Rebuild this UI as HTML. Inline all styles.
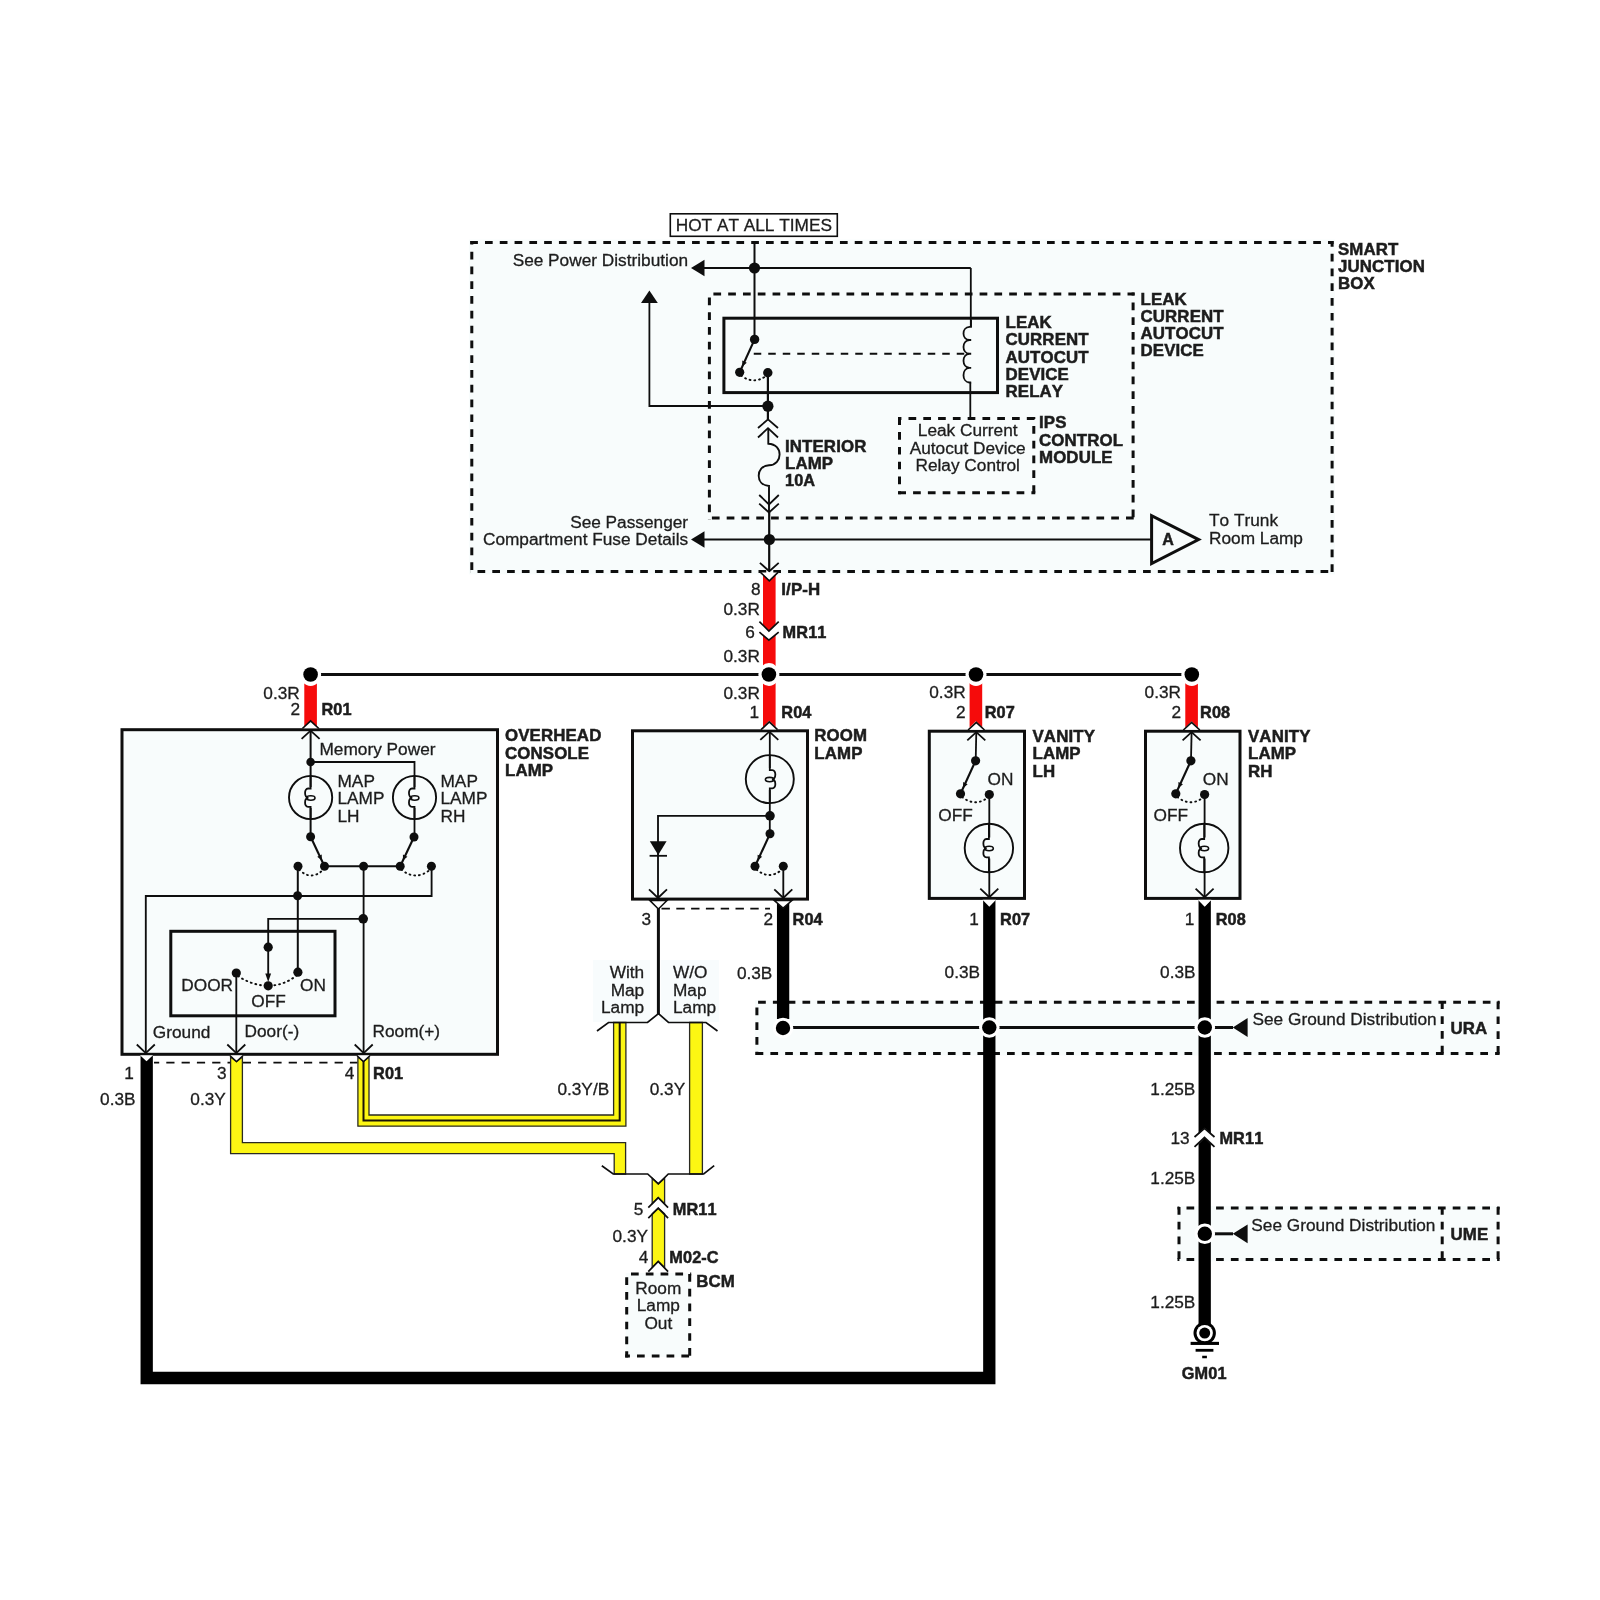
<!DOCTYPE html>
<html lang="en"><head><meta charset="utf-8"><title>Room Lamp Circuit</title>
<style>
html,body{margin:0;padding:0;background:#fff;}
body{width:1600px;height:1600px;overflow:hidden;}
text{stroke:#1c1c1c;stroke-width:.3px;paint-order:stroke fill;}text[font-weight]{stroke-width:.5px;letter-spacing:.12px;}svg{display:block;will-change:transform;font-kerning:none;font-family:"Liberation Sans",Arial,Helvetica,sans-serif;fill:#1c1c1c;}
</style></head><body>
<svg width="1600" height="1600" viewBox="0 0 1600 1600">
<!-- smart junction box -->
<rect x="468.8" y="239.6" width="866.3" height="334.8" fill="#f8fcfc"/>
<line x1="470.3" y1="242.6" x2="1333.6" y2="242.6" stroke="#0e0e0e" stroke-width="3" stroke-dasharray="7.7 7.09" stroke-dashoffset="0.1"/>
<line x1="1332.1" y1="241.1" x2="1332.1" y2="572.9" stroke="#0e0e0e" stroke-width="3" stroke-dasharray="7.7 7.09" stroke-dashoffset="2.14"/>
<line x1="470.3" y1="571.4" x2="1333.6" y2="571.4" stroke="#0e0e0e" stroke-width="3" stroke-dasharray="7.7 7.09" stroke-dashoffset="7.59"/>
<line x1="471.8" y1="241.1" x2="471.8" y2="572.9" stroke="#0e0e0e" stroke-width="3" stroke-dasharray="7.7 7.09" stroke-dashoffset="4.19"/>
<line x1="707.9" y1="294" x2="1134.6" y2="294" stroke="#0e0e0e" stroke-width="3" stroke-dasharray="7.7 7.09" stroke-dashoffset="9.29"/>
<line x1="1133.1" y1="292.5" x2="1133.1" y2="519.5" stroke="#0e0e0e" stroke-width="3" stroke-dasharray="7.7 7.09" stroke-dashoffset="4.79"/>
<line x1="707.9" y1="518" x2="1134.6" y2="518" stroke="#0e0e0e" stroke-width="3" stroke-dasharray="7.7 7.09" stroke-dashoffset="10.79"/>
<line x1="709.4" y1="292.5" x2="709.4" y2="519.5" stroke="#0e0e0e" stroke-width="3" stroke-dasharray="7.7 7.09" stroke-dashoffset="9.79"/>
<line x1="898" y1="418.6" x2="1035.3" y2="418.6" stroke="#0e0e0e" stroke-width="3" stroke-dasharray="7.7 7.09" stroke-dashoffset="4.29"/>
<line x1="1033.8" y1="417.1" x2="1033.8" y2="494.3" stroke="#0e0e0e" stroke-width="3" stroke-dasharray="7.7 7.09" stroke-dashoffset="5.89"/>
<line x1="898" y1="492.8" x2="1035.3" y2="492.8" stroke="#0e0e0e" stroke-width="3" stroke-dasharray="7.7 7.09" stroke-dashoffset="14.49"/>
<line x1="899.5" y1="417.1" x2="899.5" y2="494.3" stroke="#0e0e0e" stroke-width="3" stroke-dasharray="7.7 7.09" stroke-dashoffset="14.59"/>
<rect x="670.3" y="213.8" width="167" height="22.5" fill="#fff" stroke="#0e0e0e" stroke-width="1.6" />
<text x="753.8" y="231.2" text-anchor="middle" font-size="17.25" >HOT AT ALL TIMES</text>
<line x1="754.5" y1="241" x2="754.5" y2="339.5" stroke="#0e0e0e" stroke-width="2" />
<line x1="704" y1="268" x2="970.8" y2="268" stroke="#0e0e0e" stroke-width="1.8" />
<polygon points="691,268 704.5,259.8 704.5,276.2" fill="#0e0e0e" stroke="none" stroke-width="0" />
<circle cx="754.5" cy="268" r="5.6" fill="#0e0e0e"/>
<text x="688.1" y="265.5" text-anchor="end" font-size="17.25" >See Power Distribution</text>
<polygon points="649.4,290.4 641,303 657.8,303" fill="#0e0e0e" stroke="none" stroke-width="0" />
<path d="M649.4,302 V406 H768" fill="none" stroke="#0e0e0e" stroke-width="1.8" />
<rect x="723.9" y="318.2" width="273.6" height="74.4" fill="none" stroke="#0e0e0e" stroke-width="3" />
<circle cx="754.6" cy="339.4" r="4.7" fill="#0e0e0e"/>
<circle cx="739.7" cy="372.3" r="4.6" fill="#0e0e0e"/>
<circle cx="767.8" cy="372.8" r="4.7" fill="#0e0e0e"/>
<line x1="754.6" y1="339.4" x2="739.7" y2="372.3" stroke="#0e0e0e" stroke-width="2.1" />
<polygon points="742.38,366.38 742.25,360.61 746.8,362.67" fill="#0e0e0e" stroke="none" stroke-width="0" />
<path d="M741,375.5 Q753.5,384.95 766,376" fill="none" stroke="#0e0e0e" stroke-width="1.9" stroke-dasharray="0.9 3.9" stroke-linecap="round"/>
<line x1="753.75" y1="353.75" x2="967" y2="353.75" stroke="#0e0e0e" stroke-width="2" stroke-dasharray="7.5 7"/>
<line x1="970.8" y1="268" x2="970.8" y2="327" stroke="#0e0e0e" stroke-width="1.8" />
<path d="M971,320 V326.9 H969.5 C961.5,327.4 961.5,339.5 969.5,340 H971.2 M971.2,340 H969.5 C961.5,340.5 961.5,353.25 969.5,353.75 H971.2 M971.2,353.75 H969.5 C961.5,354.25 961.5,367.3 969.5,367.8 H971.2 M971.2,367.8 H969.5 C961.5,368.3 961.5,382 969.5,382.5 H971.2" fill="none" stroke="#0e0e0e" stroke-width="1.8" />
<path d="M970.3,382.5 V418.6" fill="none" stroke="#0e0e0e" stroke-width="1.8" />
<text x="1005.5" y="328" text-anchor="start" font-size="16.85" font-weight="700" >LEAK</text>
<text x="1005.5" y="345.3" text-anchor="start" font-size="16.85" font-weight="700" >CURRENT</text>
<text x="1005.5" y="362.6" text-anchor="start" font-size="16.85" font-weight="700" >AUTOCUT</text>
<text x="1005.5" y="379.9" text-anchor="start" font-size="16.85" font-weight="700" >DEVICE</text>
<text x="1005.5" y="397.2" text-anchor="start" font-size="16.85" font-weight="700" >RELAY</text>
<text x="1140.5" y="304.5" text-anchor="start" font-size="16.85" font-weight="700" >LEAK</text>
<text x="1140.5" y="321.8" text-anchor="start" font-size="16.85" font-weight="700" >CURRENT</text>
<text x="1140.5" y="339.1" text-anchor="start" font-size="16.85" font-weight="700" >AUTOCUT</text>
<text x="1140.5" y="356.4" text-anchor="start" font-size="16.85" font-weight="700" >DEVICE</text>
<text x="1039" y="428.2" text-anchor="start" font-size="16.85" font-weight="700" >IPS</text>
<text x="1039" y="445.5" text-anchor="start" font-size="16.85" font-weight="700" >CONTROL</text>
<text x="1039" y="462.8" text-anchor="start" font-size="16.85" font-weight="700" >MODULE</text>
<text x="967.7" y="436.4" text-anchor="middle" font-size="17.25" >Leak Current</text>
<text x="967.7" y="453.9" text-anchor="middle" font-size="17.25" >Autocut Device</text>
<text x="967.7" y="471.4" text-anchor="middle" font-size="17.25" >Relay Control</text>
<text x="1338" y="254.5" text-anchor="start" font-size="16.85" font-weight="700" >SMART</text>
<text x="1338" y="271.8" text-anchor="start" font-size="16.85" font-weight="700" >JUNCTION</text>
<text x="1338" y="289.1" text-anchor="start" font-size="16.85" font-weight="700" >BOX</text>
<line x1="767.9" y1="372.8" x2="767.9" y2="419.4" stroke="#0e0e0e" stroke-width="2.2" />
<circle cx="767.9" cy="406.2" r="5.6" fill="#0e0e0e"/>
<path d="M758,428 L768,419.4 L778,428" fill="none" stroke="#0e0e0e" stroke-width="1.8" />
<path d="M758,437.5 L768,428.2 L778,437.5" fill="none" stroke="#0e0e0e" stroke-width="1.8" />
<path d="M768.3,428.5 V443.7 C776,444 779.6,449 779.6,454.5 C779.6,460 776,465 769,465.3 C762,465.6 758.7,470.5 758.7,475.8 C758.7,481 762,485.5 769,486 V512" fill="none" stroke="#0e0e0e" stroke-width="1.9" />
<path d="M759.2,495 L769,504.4 L778.8,495" fill="none" stroke="#0e0e0e" stroke-width="1.8" />
<path d="M759.2,503.7 L769,512.5 L778.8,503.7" fill="none" stroke="#0e0e0e" stroke-width="1.8" />
<line x1="769.2" y1="512" x2="769.2" y2="570.5" stroke="#0e0e0e" stroke-width="2.2" />
<circle cx="769.4" cy="539.5" r="5.6" fill="#0e0e0e"/>
<path d="M759.9,562.9 L769.3,571.2 L778.7,562.9" fill="none" stroke="#0e0e0e" stroke-width="1.8" />
<text x="785" y="451.6" text-anchor="start" font-size="16.85" font-weight="700" >INTERIOR</text>
<text x="785" y="468.9" text-anchor="start" font-size="16.85" font-weight="700" >LAMP</text>
<text x="785" y="486.2" text-anchor="start" font-size="16.3" font-weight="700" >10A</text>
<line x1="704" y1="539.5" x2="1151.6" y2="539.5" stroke="#0e0e0e" stroke-width="1.8" />
<polygon points="691,539.5 704.5,531.3 704.5,547.7" fill="#0e0e0e" stroke="none" stroke-width="0" />
<text x="688.1" y="527.5" text-anchor="end" font-size="17.25" >See Passenger</text>
<text x="688.1" y="545" text-anchor="end" font-size="17.25" >Compartment Fuse Details</text>
<polygon points="1151.6,515.6 1151.6,563.6 1198.6,539.6" fill="#f8fcfc" stroke="#0e0e0e" stroke-width="3" stroke-linejoin="miter"/>
<text x="1168" y="545.3" text-anchor="middle" font-size="16" font-weight="700" >A</text>
<text x="1209" y="526.2" text-anchor="start" font-size="17.25" >To Trunk</text>
<text x="1209" y="543.7" text-anchor="start" font-size="17.25" >Room Lamp</text>
<!-- red feed -->
<line x1="310.6" y1="674.5" x2="1192" y2="674.5" stroke="#0e0e0e" stroke-width="3" />
<polygon points="760,572.6 769.3,581 778.6,572.6" fill="#fff" stroke="none" stroke-width="0" />
<polygon points="763,574.4 769.3,580.6 775.6,574.4 775.6,624.8 769.3,631 763,624.8" fill="#f60b0b" stroke="none" stroke-width="0" />
<path d="M760.3,572.2 L769.3,580.8 L778.3,572.2" fill="none" stroke="#0e0e0e" stroke-width="1.6" />
<path d="M759.4,621.6 L768.9,631 L778.7,621.6" fill="none" stroke="#0e0e0e" stroke-width="1.7" />
<polygon points="763,634.4 769.3,640.6 775.6,634.4 775.6,727 769.3,720.8 763,727" fill="#f60b0b" stroke="none" stroke-width="0" />
<path d="M759.4,632.2 L768.9,640.2 L778.7,632.2" fill="none" stroke="#0e0e0e" stroke-width="1.7" />
<text x="760.6" y="595" text-anchor="end" font-size="17.25" >8</text>
<text x="781.3" y="595" text-anchor="start" font-size="16.85" font-weight="700" >I/P-H</text>
<text x="759.9" y="614.5" text-anchor="end" font-size="17.25" >0.3R</text>
<text x="754.9" y="637.5" text-anchor="end" font-size="17.25" >6</text>
<text x="782.6" y="637.5" text-anchor="start" font-size="16.3" font-weight="700" >MR11</text>
<text x="759.9" y="661.5" text-anchor="end" font-size="17.25" >0.3R</text>
<text x="759.9" y="699" text-anchor="end" font-size="17.25" >0.3R</text>
<text x="759.2" y="717.6" text-anchor="end" font-size="17.25" >1</text>
<text x="781.3" y="717.6" text-anchor="start" font-size="16.3" font-weight="700" >R04</text>
<polygon points="304.3,676 316.9,676 316.9,727.5 310.6,721.3 304.3,727.5" fill="#f60b0b" stroke="none" stroke-width="0" />
<polygon points="969.6,676 982.2,676 982.2,727.5 975.9,721.3 969.6,727.5" fill="#f60b0b" stroke="none" stroke-width="0" />
<polygon points="1185.3,676 1197.9,676 1197.9,727.5 1191.6,721.3 1185.3,727.5" fill="#f60b0b" stroke="none" stroke-width="0" />
<!-- overhead console lamp -->
<rect x="122" y="729.7" width="375.5" height="324.6" fill="#f8fcfc" stroke="#0e0e0e" stroke-width="3" />
<polygon points="302.4,728.3 310.6,720.7 318.8,728.3" fill="#fff" stroke="none" stroke-width="0" />
<path d="M302.4,728.5 L310.6,720.9 L318.8,728.5" fill="none" stroke="#0e0e0e" stroke-width="1.7" />
<path d="M301.6,738.8 L310.6,730.6 L319.6,738.8" fill="none" stroke="#0e0e0e" stroke-width="1.8" />
<text x="299.8" y="699.3" text-anchor="end" font-size="17.25" >0.3R</text>
<text x="300" y="715.3" text-anchor="end" font-size="17.25" >2</text>
<text x="321.4" y="715.3" text-anchor="start" font-size="16.3" font-weight="700" >R01</text>
<text x="505" y="741.3" text-anchor="start" font-size="16.85" font-weight="700" >OVERHEAD</text>
<text x="505" y="758.8" text-anchor="start" font-size="16.85" font-weight="700" >CONSOLE</text>
<text x="505" y="776.3" text-anchor="start" font-size="16.85" font-weight="700" >LAMP</text>
<line x1="310.6" y1="731" x2="310.6" y2="837" stroke="#0e0e0e" stroke-width="2" />
<text x="319.5" y="754.6" text-anchor="start" font-size="17.25" >Memory Power</text>
<path d="M310.6,762 H414.5 V837" fill="none" stroke="#0e0e0e" stroke-width="1.8" />
<circle cx="310.6" cy="762" r="4.3" fill="#0e0e0e"/>
<rect x="307.6" y="787" width="6" height="21" fill="#f8fcfc"/>
<circle cx="310.6" cy="797.5" r="21.6" fill="none" stroke="#0e0e0e" stroke-width="1.9"/>
<path d="M310.6,775.9 V788.5 H308.1 C304,788.5 304,797.2 308.4,797.9 C304,798.1 304,806.8 308.1,806.8 H310.6 V819.1" fill="none" stroke="#0e0e0e" stroke-width="1.8" />
<ellipse cx="310.8" cy="798" rx="4.2" ry="2.2" fill="none" stroke="#0e0e0e" stroke-width="1.6"/>
<rect x="411.5" y="787" width="6" height="21" fill="#f8fcfc"/>
<circle cx="414.5" cy="797.5" r="21.6" fill="none" stroke="#0e0e0e" stroke-width="1.9"/>
<path d="M414.5,775.9 V788.5 H412 C407.9,788.5 407.9,797.2 412.3,797.9 C407.9,798.1 407.9,806.8 412,806.8 H414.5 V819.1" fill="none" stroke="#0e0e0e" stroke-width="1.8" />
<ellipse cx="414.7" cy="798" rx="4.2" ry="2.2" fill="none" stroke="#0e0e0e" stroke-width="1.6"/>
<text x="337.5" y="787" text-anchor="start" font-size="17.25" >MAP</text>
<text x="337.5" y="804.3" text-anchor="start" font-size="17.25" >LAMP</text>
<text x="337.5" y="821.6" text-anchor="start" font-size="17.25" >LH</text>
<text x="440.5" y="787" text-anchor="start" font-size="17.25" >MAP</text>
<text x="440.5" y="804.3" text-anchor="start" font-size="17.25" >LAMP</text>
<text x="440.5" y="821.6" text-anchor="start" font-size="17.25" >RH</text>
<circle cx="310.6" cy="836.8" r="4.5" fill="#0e0e0e"/>
<circle cx="414" cy="837" r="4.5" fill="#0e0e0e"/>
<circle cx="298" cy="866.2" r="4.5" fill="#0e0e0e"/>
<circle cx="324.5" cy="866.2" r="4.5" fill="#0e0e0e"/>
<circle cx="363.6" cy="866.2" r="4.5" fill="#0e0e0e"/>
<circle cx="400.2" cy="866.2" r="4.5" fill="#0e0e0e"/>
<circle cx="431.4" cy="866.2" r="4.5" fill="#0e0e0e"/>
<line x1="310.6" y1="836.8" x2="324.5" y2="866.2" stroke="#0e0e0e" stroke-width="2.1" />
<polygon points="321.72,860.32 317.24,856.69 321.76,854.55" fill="#0e0e0e" stroke="none" stroke-width="0" />
<line x1="414" y1="837" x2="400.2" y2="866.2" stroke="#0e0e0e" stroke-width="2.1" />
<polygon points="402.98,860.32 402.94,854.55 407.46,856.69" fill="#0e0e0e" stroke="none" stroke-width="0" />
<line x1="324.5" y1="866.2" x2="400.2" y2="866.2" stroke="#0e0e0e" stroke-width="2" />
<path d="M299,869.5 Q311.25,881.5 323.5,869.5" fill="none" stroke="#0e0e0e" stroke-width="1.9" stroke-dasharray="0.9 3.9" stroke-linecap="round"/>
<path d="M401.2,869.5 Q415.8,881.5 430.4,869.5" fill="none" stroke="#0e0e0e" stroke-width="1.9" stroke-dasharray="0.9 3.9" stroke-linecap="round"/>
<path d="M431.6,866.2 V896 H145.8 V1052" fill="none" stroke="#0e0e0e" stroke-width="1.85" />
<line x1="297.8" y1="866.2" x2="297.8" y2="972.5" stroke="#0e0e0e" stroke-width="2" />
<circle cx="297.6" cy="895.8" r="4.5" fill="#0e0e0e"/>
<line x1="363.6" y1="866.2" x2="363.6" y2="1052" stroke="#0e0e0e" stroke-width="1.85" />
<circle cx="363.2" cy="918.8" r="4.8" fill="#0e0e0e"/>
<path d="M363.2,918.8 H268.2 V975" fill="none" stroke="#0e0e0e" stroke-width="1.85" />
<rect x="170.8" y="931.3" width="164.2" height="84.5" fill="none" stroke="#0e0e0e" stroke-width="3" />
<circle cx="268.2" cy="947.2" r="4.6" fill="#0e0e0e"/>
<circle cx="236.3" cy="973" r="4.6" fill="#0e0e0e"/>
<circle cx="297.9" cy="972.2" r="4.6" fill="#0e0e0e"/>
<circle cx="268.2" cy="985.8" r="4.6" fill="#0e0e0e"/>
<polygon points="268.2,982 265.3,973.5 271.1,973.5" fill="#0e0e0e" stroke="none" stroke-width="0" />
<path d="M238,976 Q252,985.5 268.2,985.8 Q284,985.5 296.5,975.5" fill="none" stroke="#0e0e0e" stroke-width="1.9" stroke-dasharray="0.9 3.9" stroke-linecap="round"/>
<line x1="236.3" y1="973" x2="236.3" y2="1052" stroke="#0e0e0e" stroke-width="1.85" />
<text x="181.3" y="990.8" text-anchor="start" font-size="17.25" >DOOR</text>
<text x="300" y="990.8" text-anchor="start" font-size="17.25" >ON</text>
<text x="251.3" y="1006.8" text-anchor="start" font-size="17.25" >OFF</text>
<text x="152.8" y="1037.6" text-anchor="start" font-size="17.25" >Ground</text>
<text x="244.5" y="1037.2" text-anchor="start" font-size="17.25" >Door(-)</text>
<text x="372.5" y="1037.2" text-anchor="start" font-size="17.25" >Room(+)</text>
<path d="M136.8,1044.5 L145.8,1053.1 L154.8,1044.5" fill="none" stroke="#0e0e0e" stroke-width="1.8" />
<path d="M227.3,1044.5 L236.3,1053.1 L245.3,1044.5" fill="none" stroke="#0e0e0e" stroke-width="1.8" />
<path d="M354.7,1044.5 L363.7,1053.1 L372.7,1044.5" fill="none" stroke="#0e0e0e" stroke-width="1.8" />
<!-- room lamp -->
<rect x="632.5" y="730.8" width="175" height="168.3" fill="#f8fcfc" stroke="#0e0e0e" stroke-width="3" />
<polygon points="761.1,729.4 769.3,721.8 777.5,729.4" fill="#fff" stroke="none" stroke-width="0" />
<path d="M761.1,729.6 L769.3,722 L777.5,729.6" fill="none" stroke="#0e0e0e" stroke-width="1.7" />
<path d="M760.3,739.9 L769.3,731.7 L778.3,739.9" fill="none" stroke="#0e0e0e" stroke-width="1.8" />
<text x="814.3" y="741.3" text-anchor="start" font-size="16.85" font-weight="700" >ROOM</text>
<text x="814.3" y="758.8" text-anchor="start" font-size="16.85" font-weight="700" >LAMP</text>
<line x1="769.8" y1="732" x2="769.8" y2="834" stroke="#0e0e0e" stroke-width="1.8" />
<rect x="766.8" y="768" width="6" height="22" fill="#f8fcfc"/>
<circle cx="769.8" cy="779.1" r="24" fill="none" stroke="#0e0e0e" stroke-width="1.9"/>
<path d="M769.8,755.1 V770.1 H772.3 C776.4,770.1 776.4,778.8 772,779.5 C776.4,779.7 776.4,788.4 772.3,788.4 H769.8 V803.1" fill="none" stroke="#0e0e0e" stroke-width="1.8" />
<ellipse cx="769.6" cy="779.6" rx="4.2" ry="2.2" fill="none" stroke="#0e0e0e" stroke-width="1.6"/>
<circle cx="770" cy="815.8" r="4.8" fill="#0e0e0e"/>
<circle cx="770" cy="833.8" r="4.5" fill="#0e0e0e"/>
<circle cx="755" cy="866.3" r="4.5" fill="#0e0e0e"/>
<circle cx="783.3" cy="866.3" r="4.5" fill="#0e0e0e"/>
<line x1="770" y1="833.8" x2="755" y2="866.3" stroke="#0e0e0e" stroke-width="2.1" />
<polygon points="757.72,860.4 757.63,854.63 762.17,856.72" fill="#0e0e0e" stroke="none" stroke-width="0" />
<path d="M756.5,869.5 Q769.25,880.5 782,869.5" fill="none" stroke="#0e0e0e" stroke-width="1.9" stroke-dasharray="0.9 3.9" stroke-linecap="round"/>
<line x1="783.3" y1="866.3" x2="783.3" y2="897" stroke="#0e0e0e" stroke-width="1.85" />
<path d="M770,815.8 H658 V897" fill="none" stroke="#0e0e0e" stroke-width="1.85" />
<polygon points="649.8,841.3 666.6,841.3 658.2,855" fill="#0e0e0e" stroke="none" stroke-width="0" />
<line x1="649.6" y1="855.8" x2="667" y2="855.8" stroke="#0e0e0e" stroke-width="1.8" />
<path d="M649,889.3 L658,897.9 L667,889.3" fill="none" stroke="#0e0e0e" stroke-width="1.8" />
<path d="M774.3,889.3 L783.3,897.9 L792.3,889.3" fill="none" stroke="#0e0e0e" stroke-width="1.8" />
<!-- vanity lamps -->
<rect x="929.3" y="731.2" width="95.2" height="167.2" fill="#f8fcfc" stroke="#0e0e0e" stroke-width="3" />
<polygon points="968.1,729.8 976.3,722.2 984.5,729.8" fill="#fff" stroke="none" stroke-width="0" />
<path d="M968.1,730 L976.3,722.4 L984.5,730" fill="none" stroke="#0e0e0e" stroke-width="1.7" />
<path d="M967.3,740.3 L976.3,732.1 L985.3,740.3" fill="none" stroke="#0e0e0e" stroke-width="1.8" />
<line x1="976.3" y1="732" x2="975.7" y2="760.8" stroke="#0e0e0e" stroke-width="1.8" />
<circle cx="975.6" cy="760.8" r="4.6" fill="#0e0e0e"/>
<circle cx="960.5" cy="793.8" r="4.6" fill="#0e0e0e"/>
<circle cx="989.3" cy="794.5" r="4.6" fill="#0e0e0e"/>
<line x1="975.6" y1="760.8" x2="960.5" y2="793.8" stroke="#0e0e0e" stroke-width="2.1" />
<polygon points="963.2,787.89 963.09,782.12 967.64,784.2" fill="#0e0e0e" stroke="none" stroke-width="0" />
<path d="M962,797 Q975,807.25 988,797.5" fill="none" stroke="#0e0e0e" stroke-width="1.9" stroke-dasharray="0.9 3.9" stroke-linecap="round"/>
<line x1="989.3" y1="794.5" x2="989.3" y2="897" stroke="#0e0e0e" stroke-width="1.85" />
<rect x="985.9" y="837.5" width="6" height="21" fill="#f8fcfc"/>
<circle cx="988.9" cy="848" r="24.2" fill="none" stroke="#0e0e0e" stroke-width="1.9"/>
<path d="M988.9,823.8 V839 H986.4 C982.3,839 982.3,847.7 986.7,848.4 C982.3,848.6 982.3,857.3 986.4,857.3 H988.9 V872.2" fill="none" stroke="#0e0e0e" stroke-width="1.8" />
<ellipse cx="989.1" cy="848.5" rx="4.2" ry="2.2" fill="none" stroke="#0e0e0e" stroke-width="1.6"/>
<path d="M980.3,888.6 L989.3,897.2 L998.3,888.6" fill="none" stroke="#0e0e0e" stroke-width="1.8" />
<text x="987.5" y="784.6" text-anchor="start" font-size="17.25" >ON</text>
<text x="938.3" y="820.6" text-anchor="start" font-size="17.25" >OFF</text>
<text x="1032.5" y="742" text-anchor="start" font-size="16.85" font-weight="700" >VANITY</text>
<text x="1032.5" y="759.4" text-anchor="start" font-size="16.85" font-weight="700" >LAMP</text>
<text x="1032.5" y="776.8" text-anchor="start" font-size="16.85" font-weight="700" >LH</text>
<text x="965.7" y="698.2" text-anchor="end" font-size="17.25" >0.3R</text>
<text x="965.7" y="718" text-anchor="end" font-size="17.25" >2</text>
<text x="984.7" y="718" text-anchor="start" font-size="16.3" font-weight="700" >R07</text>
<rect x="1145.5" y="731.2" width="94.5" height="167.2" fill="#f8fcfc" stroke="#0e0e0e" stroke-width="3" />
<polygon points="1183.4,729.8 1191.6,722.2 1199.8,729.8" fill="#fff" stroke="none" stroke-width="0" />
<path d="M1183.4,730 L1191.6,722.4 L1199.8,730" fill="none" stroke="#0e0e0e" stroke-width="1.7" />
<path d="M1182.6,740.3 L1191.6,732.1 L1200.6,740.3" fill="none" stroke="#0e0e0e" stroke-width="1.8" />
<line x1="1191.6" y1="732" x2="1191" y2="760.8" stroke="#0e0e0e" stroke-width="1.8" />
<circle cx="1190.9" cy="760.8" r="4.6" fill="#0e0e0e"/>
<circle cx="1175.8" cy="793.8" r="4.6" fill="#0e0e0e"/>
<circle cx="1204.6" cy="794.5" r="4.6" fill="#0e0e0e"/>
<line x1="1190.9" y1="760.8" x2="1175.8" y2="793.8" stroke="#0e0e0e" stroke-width="2.1" />
<polygon points="1178.5,787.89 1178.39,782.12 1182.94,784.2" fill="#0e0e0e" stroke="none" stroke-width="0" />
<path d="M1177.3,797 Q1190.3,807.25 1203.3,797.5" fill="none" stroke="#0e0e0e" stroke-width="1.9" stroke-dasharray="0.9 3.9" stroke-linecap="round"/>
<line x1="1204.6" y1="794.5" x2="1204.6" y2="897" stroke="#0e0e0e" stroke-width="1.85" />
<rect x="1201.2" y="837.5" width="6" height="21" fill="#f8fcfc"/>
<circle cx="1204.2" cy="848" r="24.2" fill="none" stroke="#0e0e0e" stroke-width="1.9"/>
<path d="M1204.2,823.8 V839 H1201.7 C1197.6,839 1197.6,847.7 1202,848.4 C1197.6,848.6 1197.6,857.3 1201.7,857.3 H1204.2 V872.2" fill="none" stroke="#0e0e0e" stroke-width="1.8" />
<ellipse cx="1204.4" cy="848.5" rx="4.2" ry="2.2" fill="none" stroke="#0e0e0e" stroke-width="1.6"/>
<path d="M1195.6,888.6 L1204.6,897.2 L1213.6,888.6" fill="none" stroke="#0e0e0e" stroke-width="1.8" />
<text x="1202.8" y="784.6" text-anchor="start" font-size="17.25" >ON</text>
<text x="1153.6" y="820.6" text-anchor="start" font-size="17.25" >OFF</text>
<text x="1248" y="742" text-anchor="start" font-size="16.85" font-weight="700" >VANITY</text>
<text x="1248" y="759.4" text-anchor="start" font-size="16.85" font-weight="700" >LAMP</text>
<text x="1248" y="776.8" text-anchor="start" font-size="16.85" font-weight="700" >RH</text>
<text x="1181" y="698.2" text-anchor="end" font-size="17.25" >0.3R</text>
<text x="1181" y="718" text-anchor="end" font-size="17.25" >2</text>
<text x="1200" y="718" text-anchor="start" font-size="16.3" font-weight="700" >R08</text>
<ellipse cx="310.6" cy="674.5" rx="10.5" ry="11.4" fill="#fff"/>
<circle cx="310.6" cy="674.5" r="7.3" fill="#000"/>
<ellipse cx="768.9" cy="674.5" rx="10.5" ry="11.4" fill="#fff"/>
<circle cx="768.9" cy="674.5" r="7.3" fill="#000"/>
<ellipse cx="976" cy="674.5" rx="10.5" ry="11.4" fill="#fff"/>
<circle cx="976" cy="674.5" r="7.3" fill="#000"/>
<ellipse cx="1191.8" cy="674.5" rx="10.5" ry="11.4" fill="#fff"/>
<circle cx="1191.8" cy="674.5" r="7.3" fill="#000"/>
<!-- ground distribution -->
<rect x="754.9" y="1000.2" width="745.2" height="55.3" fill="#f8fcfc"/>
<line x1="755.4" y1="1002.2" x2="1499.6" y2="1002.2" stroke="#0e0e0e" stroke-width="3" stroke-dasharray="7.7 7.09" stroke-dashoffset="12.09"/>
<line x1="1498.1" y1="1000.7" x2="1498.1" y2="1055" stroke="#0e0e0e" stroke-width="3" stroke-dasharray="7.7 7.09" stroke-dashoffset="13.89"/>
<line x1="755.4" y1="1053.5" x2="1499.6" y2="1053.5" stroke="#0e0e0e" stroke-width="3" stroke-dasharray="7.7 7.09" stroke-dashoffset="14.59"/>
<line x1="756.9" y1="1000.7" x2="756.9" y2="1055" stroke="#0e0e0e" stroke-width="3" stroke-dasharray="7.7 7.09" stroke-dashoffset="7.99"/>
<line x1="1442.2" y1="1002.2" x2="1442.2" y2="1053.5" stroke="#0e0e0e" stroke-width="3" stroke-dasharray="7.7 7.09" stroke-dashoffset="0.8"/>
<rect x="1177" y="1206.1" width="323.1" height="55.3" fill="#f8fcfc"/>
<line x1="1177.5" y1="1208.1" x2="1499.6" y2="1208.1" stroke="#0e0e0e" stroke-width="3" stroke-dasharray="7.7 7.09" stroke-dashoffset="5.79"/>
<line x1="1498.1" y1="1206.6" x2="1498.1" y2="1260.9" stroke="#0e0e0e" stroke-width="3" stroke-dasharray="7.7 7.09" stroke-dashoffset="14.39"/>
<line x1="1177.5" y1="1259.4" x2="1499.6" y2="1259.4" stroke="#0e0e0e" stroke-width="3" stroke-dasharray="7.7 7.09" stroke-dashoffset="5.79"/>
<line x1="1179" y1="1206.6" x2="1179" y2="1260.9" stroke="#0e0e0e" stroke-width="3" stroke-dasharray="7.7 7.09" stroke-dashoffset="14.39"/>
<line x1="1442.2" y1="1208.1" x2="1442.2" y2="1259.4" stroke="#0e0e0e" stroke-width="3" stroke-dasharray="7.7 7.09" stroke-dashoffset="1.1"/>
<rect x="593" y="960" width="57" height="62" fill="#f8fcfd"/>
<rect x="661" y="960" width="58" height="62" fill="#f8fcfd"/>
<!-- black wires -->
<path d="M146.7,1056 V1378 H989.3 V900" fill="none" stroke="#000" stroke-width="12.3" stroke-linejoin="miter"/>
<polygon points="140,1055.2 146.5,1061.2 153,1055.2" fill="#fff" stroke="none" stroke-width="0" />
<polygon points="982.5,899.8 989.3,906.8 996,899.8" fill="#fff" stroke="none" stroke-width="0" />
<polygon points="776.95,902.8 783.1,908.2 789.25,902.8 789.25,1019 776.95,1019" fill="#000" stroke="none" stroke-width="0" />
<polygon points="774.4,900.6 783.1,908 791.9,900.6" fill="#fff" stroke="#0e0e0e" stroke-width="1.5" />
<polygon points="1198.55,900 1204.7,906.2 1210.85,900 1210.85,1134.3 1204.7,1128.1 1198.55,1134.3" fill="#000" stroke="none" stroke-width="0" />
<polygon points="1198,899.8 1204.7,906.8 1211.4,899.8" fill="#fff" stroke="none" stroke-width="0" />
<polygon points="1198.55,1144 1204.7,1137.8 1210.85,1144 1210.85,1326 1198.55,1326" fill="#000" stroke="none" stroke-width="0" />
<path d="M1194.5,1137 L1204.5,1128.4 L1214.5,1137" fill="none" stroke="#0e0e0e" stroke-width="1.8" />
<path d="M1194.5,1146.9 L1204.5,1137.5 L1214.5,1146.9" fill="none" stroke="#0e0e0e" stroke-width="1.8" />
<line x1="783" y1="1027.5" x2="1233" y2="1027.5" stroke="#0e0e0e" stroke-width="3" />
<polygon points="1232.8,1027.5 1247.6,1018.1 1247.6,1036.9" fill="#0e0e0e" stroke="none" stroke-width="0" />
<line x1="1205" y1="1233.8" x2="1233" y2="1233.8" stroke="#0e0e0e" stroke-width="3" />
<polygon points="1232.8,1233.8 1247.6,1224.4 1247.6,1243.2" fill="#0e0e0e" stroke="none" stroke-width="0" />
<ellipse cx="783" cy="1028" rx="10.3" ry="10.3" fill="#fff"/>
<circle cx="783" cy="1028" r="7.2" fill="#000"/>
<ellipse cx="989.3" cy="1027.5" rx="10.3" ry="10.3" fill="#fff"/>
<circle cx="989.3" cy="1027.5" r="7.2" fill="#000"/>
<ellipse cx="1204.8" cy="1027.5" rx="10.3" ry="10.3" fill="#fff"/>
<circle cx="1204.8" cy="1027.5" r="7.2" fill="#000"/>
<ellipse cx="1204.8" cy="1233.8" rx="10.3" ry="10.3" fill="#fff"/>
<circle cx="1204.8" cy="1233.8" r="7.2" fill="#000"/>
<text x="1252.5" y="1025" text-anchor="start" font-size="17.25" >See Ground Distribution</text>
<text x="1251.3" y="1231.3" text-anchor="start" font-size="17.25" >See Ground Distribution</text>
<text x="1450.5" y="1033.8" text-anchor="start" font-size="16.85" font-weight="700" >URA</text>
<text x="1450.5" y="1240" text-anchor="start" font-size="16.85" font-weight="700" >UME</text>
<circle cx="1204.7" cy="1333.1" r="11.2" fill="#000"/>
<circle cx="1204.7" cy="1333.1" r="8.2" fill="#fff"/>
<circle cx="1204.7" cy="1333.1" r="5.5" fill="#000"/>
<line x1="1190.6" y1="1343.4" x2="1219" y2="1343.4" stroke="#000" stroke-width="3.1" />
<line x1="1195.6" y1="1350.3" x2="1213.4" y2="1350.3" stroke="#000" stroke-width="2.8" />
<line x1="1202.2" y1="1357" x2="1206.9" y2="1357" stroke="#000" stroke-width="2.5" />
<text x="1204.2" y="1378.7" text-anchor="middle" font-size="16.3" font-weight="700" >GM01</text>
<text x="133.8" y="1079" text-anchor="end" font-size="17.25" >1</text>
<text x="135.6" y="1104.5" text-anchor="end" font-size="17.25" >0.3B</text>
<text x="773.2" y="925" text-anchor="end" font-size="17.25" >2</text>
<text x="792.5" y="925" text-anchor="start" font-size="16.3" font-weight="700" >R04</text>
<text x="651.2" y="925" text-anchor="end" font-size="17.25" >3</text>
<text x="772.4" y="978.8" text-anchor="end" font-size="17.25" >0.3B</text>
<text x="978.8" y="925" text-anchor="end" font-size="17.25" >1</text>
<text x="1000" y="925" text-anchor="start" font-size="16.3" font-weight="700" >R07</text>
<text x="980.1" y="978.2" text-anchor="end" font-size="17.25" >0.3B</text>
<text x="1194.3" y="925" text-anchor="end" font-size="17.25" >1</text>
<text x="1215.7" y="925" text-anchor="start" font-size="16.3" font-weight="700" >R08</text>
<text x="1195.6" y="978.2" text-anchor="end" font-size="17.25" >0.3B</text>
<text x="1195.4" y="1095" text-anchor="end" font-size="17.25" >1.25B</text>
<text x="1189.6" y="1143.5" text-anchor="end" font-size="17.25" >13</text>
<text x="1219.4" y="1143.5" text-anchor="start" font-size="16.3" font-weight="700" >MR11</text>
<text x="1195.4" y="1183.8" text-anchor="end" font-size="17.25" >1.25B</text>
<text x="1195.4" y="1308" text-anchor="end" font-size="17.25" >1.25B</text>
<line x1="154" y1="1062.6" x2="357.5" y2="1062.6" stroke="#0e0e0e" stroke-width="1.8" stroke-dasharray="8.2 7.1" stroke-dashoffset="3"/>
<line x1="661.5" y1="908.6" x2="770" y2="908.6" stroke="#0e0e0e" stroke-width="1.9" stroke-dasharray="8.4 6.4"/>
<!-- yellow wires -->
<polygon points="230.6,1057 236.5,1061.6 242.4,1057 242.4,1142.6 625.6,1142.6 625.6,1174 614.2,1174 614.2,1153.6 230.6,1153.6" fill="#fcf613" stroke="#2a2a22" stroke-width="1.3" stroke-linejoin="miter"/>
<polygon points="229.8,1055.3 236.5,1061.4 243.2,1055.3" fill="#fff" stroke="none" stroke-width="0" />
<path d="M229.9,1055.6 L236.5,1061.6 L243.1,1055.6" fill="none" stroke="#0e0e0e" stroke-width="1.4" />
<polygon points="357.9,1057 363.5,1061.6 369,1057 369,1115 613.6,1115 613.6,1022.5 625.9,1022.5 625.9,1126.2 357.9,1126.2" fill="#fcf613" stroke="#2a2a22" stroke-width="1.3" stroke-linejoin="miter"/>
<path d="M363.5,1061 V1120.6 H619.7 V1022.5" fill="none" stroke="#1a1408" stroke-width="2" />
<polygon points="356.9,1055.3 363.5,1061.4 370.1,1055.3" fill="#fff" stroke="none" stroke-width="0" />
<path d="M356.9,1055.6 L363.5,1061.6 L370.1,1055.6" fill="none" stroke="#0e0e0e" stroke-width="1.4" />
<polygon points="689.6,1022.5 702.4,1022.5 702.4,1174 689.6,1174" fill="#fcf613" stroke="#2a2a22" stroke-width="1.3" stroke-linejoin="miter"/>
<path d="M597,1031 L608.5,1022.5 H647.5 L658.5,1013.5 L668.5,1022.5 H706 L717.5,1031" fill="none" stroke="#0e0e0e" stroke-width="1.7" />
<line x1="658.4" y1="905" x2="658.4" y2="1014.5" stroke="#0e0e0e" stroke-width="3" />
<polygon points="652.2,1178.2 658.3,1183.8 664.6,1178.2 664.6,1203.6 658.3,1197.6 652.2,1203.6" fill="#fcf613" stroke="#2a2a22" stroke-width="1.3" stroke-linejoin="miter"/>
<polygon points="652.2,1213.8 658.3,1208.2 664.6,1213.8 664.6,1267.5 658.3,1261.5 652.2,1267.5" fill="#fcf613" stroke="#2a2a22" stroke-width="1.3" stroke-linejoin="miter"/>
<path d="M601.8,1165.7 L613.2,1174 H647.7 L658.3,1183.8 L668.3,1174 H703.7 L714.2,1165.7" fill="none" stroke="#0e0e0e" stroke-width="1.7" />
<path d="M648.3,1207.7 L658.2,1197.7 L668.1,1207.7" fill="none" stroke="#0e0e0e" stroke-width="1.7" />
<path d="M648.3,1218.2 L658.2,1208.2 L668.1,1218.2" fill="none" stroke="#0e0e0e" stroke-width="1.7" />
<polygon points="649.5,1271.6 658.2,1262.2 667,1271.6" fill="#fff" stroke="none" stroke-width="0" />
<path d="M648.3,1271.6 L658.2,1261.5 L668.1,1271.6" fill="none" stroke="#0e0e0e" stroke-width="1.7" />
<polygon points="650,900.6 658.4,909 667,900.6" fill="#fff" stroke="#0e0e0e" stroke-width="1.5" />
<text x="644.2" y="978.2" text-anchor="end" font-size="17.25" >With</text>
<text x="644.2" y="995.7" text-anchor="end" font-size="17.25" >Map</text>
<text x="644.2" y="1013.2" text-anchor="end" font-size="17.25" >Lamp</text>
<text x="673" y="978.2" text-anchor="start" font-size="17.25" >W/O</text>
<text x="673" y="995.7" text-anchor="start" font-size="17.25" >Map</text>
<text x="673" y="1013.2" text-anchor="start" font-size="17.25" >Lamp</text>
<text x="609.2" y="1094.8" text-anchor="end" font-size="17.25" >0.3Y/B</text>
<text x="685.2" y="1094.8" text-anchor="end" font-size="17.25" >0.3Y</text>
<text x="226.6" y="1079" text-anchor="end" font-size="17.25" >3</text>
<text x="225.8" y="1104.5" text-anchor="end" font-size="17.25" >0.3Y</text>
<text x="354.4" y="1079" text-anchor="end" font-size="17.25" >4</text>
<text x="373" y="1079" text-anchor="start" font-size="16.3" font-weight="700" >R01</text>
<text x="643.4" y="1214.7" text-anchor="end" font-size="17.25" >5</text>
<text x="672.8" y="1214.7" text-anchor="start" font-size="16.3" font-weight="700" >MR11</text>
<text x="648" y="1242" text-anchor="end" font-size="17.25" >0.3Y</text>
<text x="648.4" y="1263.3" text-anchor="end" font-size="17.25" >4</text>
<text x="669.3" y="1263.3" text-anchor="start" font-size="16.3" font-weight="700" >M02-C</text>
<rect x="625.7" y="1272.9" width="65" height="84.1" fill="#f8fcfc"/>
<line x1="625.2" y1="1273.9" x2="691.2" y2="1273.9" stroke="#0e0e0e" stroke-width="3" stroke-dasharray="7.7 7.09" stroke-dashoffset="8.99"/>
<line x1="689.7" y1="1272.4" x2="689.7" y2="1357.5" stroke="#0e0e0e" stroke-width="3" stroke-dasharray="7.7 7.09" stroke-dashoffset="13.19"/>
<line x1="625.2" y1="1356" x2="691.2" y2="1356" stroke="#0e0e0e" stroke-width="3" stroke-dasharray="7.7 7.09" stroke-dashoffset="2.99"/>
<line x1="626.7" y1="1272.4" x2="626.7" y2="1357.5" stroke="#0e0e0e" stroke-width="3" stroke-dasharray="7.7 7.09" stroke-dashoffset="9.89"/>
<text x="696.2" y="1287.1" text-anchor="start" font-size="16.85" font-weight="700" >BCM</text>
<text x="658.3" y="1293.6" text-anchor="middle" font-size="17.25" >Room</text>
<text x="658.3" y="1311.1" text-anchor="middle" font-size="17.25" >Lamp</text>
<text x="658.3" y="1328.6" text-anchor="middle" font-size="17.25" >Out</text>
</svg>
</body></html>
